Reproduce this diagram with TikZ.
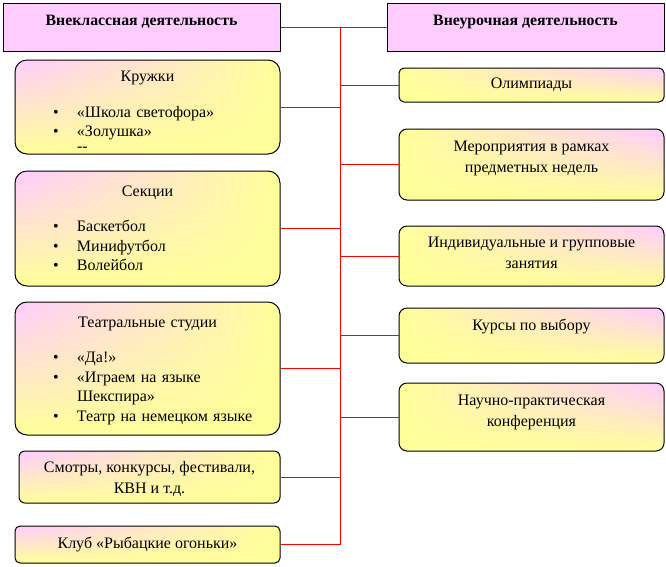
\documentclass[tikz,border=0pt]{standalone}
\usepackage{fontspec}
\setmainfont{Liberation Serif}
\newfontfamily\tnr{Liberation Serif}
\usetikzlibrary{shadings}
\definecolor{pinkc}{RGB}{255,204,255}
\definecolor{yellowc}{RGB}{255,255,153}
\definecolor{linered}{RGB}{255,0,0}
\newcommand{\itm}[1]{\hspace*{28pt}\makebox[24pt][l]{\textbullet}#1}
\newcommand{\ttl}[2][0pt]{\makebox[245pt]{\rule{0pt}{#1}#2}}

\begin{document}
\begin{tikzpicture}[x=1pt,y=-1pt,
    font=\tnr\fontsize{16}{19.5}\selectfont,
    head/.style={draw,line width=1pt,fill=pinkc,minimum width=277pt,minimum height=48pt,inner sep=0pt,text depth=14pt,font=\tnr\fontsize{15.8}{19.5}\selectfont\bfseries},
    lbox/.style={draw,line width=1pt,rounded corners=12pt,upper left=pinkc,upper right=yellowc,lower left=yellowc,lower right=yellowc,minimum width=265pt,inner sep=0pt,align=center,font=\tnr\fontsize{16}{21.5}\selectfont},
    rbox/.style={draw,line width=1pt,rounded corners=8pt,upper left=yellowc,upper right=pinkc,lower left=yellowc,lower right=yellowc,minimum width=265pt,inner sep=0pt,align=center,font=\tnr\fontsize{16}{21}\selectfont},
    list/.style={text width=245pt,align=left,inner xsep=10pt,font=\tnr\fontsize{16}{19.5}\selectfont},
    link/.style={draw=linered,line width=1pt}]
  \useasboundingbox (0,0) rectangle (666,566);
  % headers
  \node[head] (vneklass) at (141.5,27) {Внеклассная деятельность};
  \node[head] (vneurok) at (525.5,27) {Внеурочная деятельность};
  % left column
  \node[lbox,list,minimum height=94pt] (kruzhki) at (147.5,107)
    {\ttl[19pt]{Кружки}\\[16pt]\itm{«Школа светофора»}\\\itm{«Золушка»}\\[-5pt]\hspace*{52pt}-{}-};
  \node[lbox,list,minimum height=115pt] (sekcii) at (147.5,228.5)
    {\ttl{Секции}\\[16pt]\itm{Баскетбол}\\\itm{Минифутбол}\\\itm{Волейбол}};
  \node[lbox,list,minimum height=133pt] (teatr) at (147.5,368.5)
    {\ttl[15pt]{Театральные студии}\\[16pt]\itm{«Да!»}\\\itm{«Играем на языке}\\\hspace*{52pt}Шекспира»\\\itm{Театр на немецком языке}};
  \node[lbox,rounded corners=6pt,minimum width=261pt,minimum height=52pt] (smotry) at (149.5,477)
    {\rule{0pt}{15pt}Смотры, конкурсы, фестивали,\\КВН и т.д.};
  \node[lbox,rounded corners=5pt,minimum height=37pt] (klub) at (147.5,544.5) {Клуб «Рыбацкие огоньки»};
  % right column
  \node[rbox,rounded corners=5pt,minimum height=34pt] (olimp) at (531.5,85) {Олимпиады};
  \node[rbox,minimum height=71pt,text depth=16pt] (meropr) at (531.5,164.5) {Мероприятия в рамках\\предметных недель};
  \node[rbox,minimum height=60pt,text depth=7pt] (indiv) at (531.5,256) {Индивидуальные и групповые\\занятия};
  \node[rbox,minimum height=55pt,text depth=21pt] (kursy) at (531.5,335.5) {Курсы по выбору};
  \node[rbox,minimum height=68pt,text depth=13pt] (nauch) at (531.5,417) {Научно-практическая\\конференция};
  % links
  \coordinate (trunk) at (340,27);
  \draw[link] (vneklass.east) -- (vneurok.west);
  \draw[link] (trunk) -- (trunk |- klub.east);
  \foreach \n in {kruzhki,sekcii,teatr,smotry,klub}
    \draw[link] (\n.east) -- (\n.east -| trunk);
  \foreach \n in {olimp,meropr,indiv,kursy,nauch}
    \draw[link] (\n.west) -- (\n.west -| trunk);
\end{tikzpicture}
\end{document}
